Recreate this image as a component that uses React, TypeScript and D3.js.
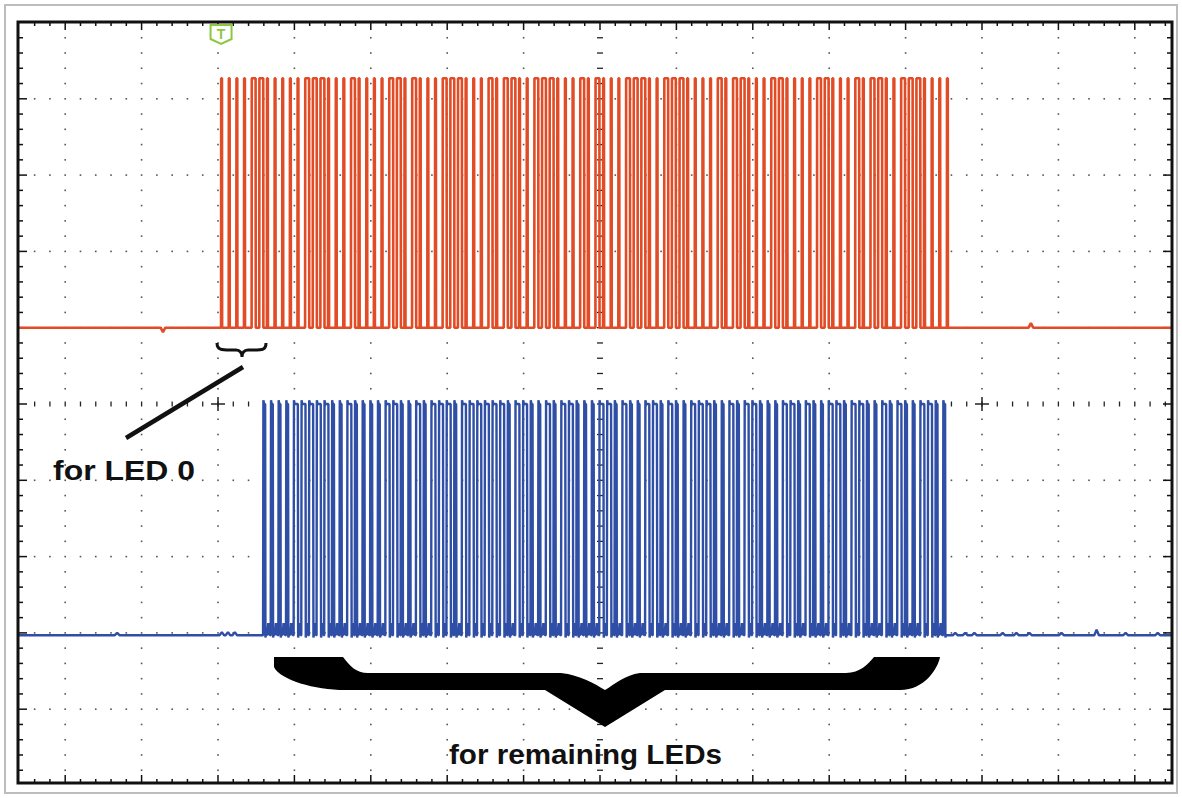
import React from 'react';
import * as d3 from 'd3';

const W = 1182;
const H = 798;

// Time axis in µs (10 µs/div), voltage in V (1 V/div)
const timeTicks = d3.range(-70, 71, 10);
const voltTicks = d3.range(-4, 5, 1);
const crossTimes = [-50, 50];

const bitPeriod = 1.0;

// CH1 (red): input of LED 0
const redStart = -49.6;
const redOffset = 1.0;
const redHigh = 3.27;
const redPulseWidth = [0.1, 0.5];
const redBits = [
  0, 0, 0, 0, 1, 1, 0, 0, 0, 0,
  0, 1, 1, 1, 0, 0, 0, 1, 0, 0,
  0, 0, 1, 1, 0, 1, 0, 0, 0, 1,
  1, 1,
  0, 0, 0, 1, 0, 1, 1, 0,
  0, 1, 1, 1, 0, 0, 0, 1, 0, 1,
  0, 0, 0, 1, 1, 1, 0, 0, 1, 1,
  1, 0, 0, 0,
  0, 1, 0, 1, 1, 0,
  0, 0, 1, 1, 0, 0, 0, 0, 1, 1,
  0, 0, 0, 1, 0, 1, 1, 0, 0, 1,
  1, 1, 0, 0, 0, 0,
];
const redGlitches: [number, number][] = [
  [-57.2, -0.06],
  [56.4, 0.06],
];

// CH2 (blue): output of LED 0
const blueStart = -44.1;
const blueOffset = -3.03;
const blueHigh = 3.03;
const bluePulseWidth = [0.22, 0.5];
const blueBump = 0.16;
const blueBits = [
  0, 0, 0, 0, 1, 1, 1, 1, 1, 0,
  0, 1, 0, 0, 0, 0, 1, 1, 0, 0,
  1, 0, 1, 1, 1, 0, 1, 1, 1, 1,
  1, 1,
  0, 1, 1, 0, 0, 1, 0, 1, 1, 0,
  0, 0, 1, 1, 0, 1, 0, 0, 1, 1,
  0, 1, 0, 0, 1, 1, 1, 0, 0, 1,
  0, 1, 1, 0, 0, 0, 1, 1, 0, 1,
  0, 0, 1, 1, 0, 1, 1, 0, 0, 1,
  0, 1, 0, 0, 1, 1, 0, 0,
];
const blueGlitches: [number, number][] = [
  [-63.2, 0.03],
  [-49.5, 0.04],
  [-48.7, 0.04],
  [-47.8, 0.04],
  [46.5, 0.03],
  [47.8, 0.03],
  [49.0, 0.03],
  [52.7, 0.03],
  [54.5, 0.03],
  [56.2, 0.03],
  [60.4, 0.03],
  [65.0, 0.07],
  [68.8, 0.03],
  [73.0, 0.03],
];

const labelLed0 = 'for LED 0';
const labelRest = 'for remaining LEDs';

const xScale = d3.scaleLinear().domain([-70, 70]).range([65.2, 1134.8]);
const yScale = d3.scaleLinear().domain([-4, 4]).range([709.2, 98.8]);

const frame = { left: 18, right: 1172, top: 22, bottom: 783 };

type Pt = [number, number];

function buildRed(): Pt[] {
  const tMin = xScale.invert(frame.left + 1);
  const tMax = xScale.invert(frame.right - 1);
  const pts: Pt[] = [];
  redBits.forEach((b, k) => {
    const tr = redStart + k * bitPeriod;
    const w = redPulseWidth[b];
    pts.push([tr, 0], [tr + 0.02, redHigh], [tr + 0.02 + w, redHigh], [tr + 0.04 + w, 0]);
  });
  redGlitches.forEach(([t, dv]) => {
    pts.push([t - 0.3, 0], [t, dv], [t + 0.3, 0]);
  });
  pts.sort((a, b) => a[0] - b[0]);
  return [[tMin, 0], ...pts, [tMax, 0]];
}

function buildBlue(): Pt[] {
  const tMin = xScale.invert(frame.left + 1);
  const tMax = xScale.invert(frame.right - 1);
  const pts: Pt[] = [];
  blueBits.forEach((b, k) => {
    const tr = blueStart + k * bitPeriod;
    const w = bluePulseWidth[b];
    const tf = tr + 0.05 + w;
    pts.push(
      [tr, 0],
      [tr + 0.04, blueHigh + 0.05],
      [tr + 0.12, blueHigh],
      [tf, blueHigh],
      [tf + 0.04, -0.03],
      [tf + 0.09, 0]
    );
    if (k < blueBits.length - 1) {
      const next = blueStart + (k + 1) * bitPeriod;
      const mid = (tf + 0.09 + next) / 2;
      pts.push([mid - 0.12, 0.01], [mid, blueBump], [mid + 0.12, 0.01], [next - 0.02, 0]);
    }
  });
  blueGlitches.forEach(([t, dv]) => {
    pts.push([t - 0.3, 0], [t, dv], [t + 0.3, 0]);
  });
  pts.sort((a, b) => a[0] - b[0]);
  return [[tMin, 0], ...pts, [tMax, 0]];
}

export default function App() {
  const redLine = d3
    .line<Pt>()
    .x((d) => xScale(d[0]))
    .y((d) => yScale(redOffset + d[1]));
  const blueLine = d3
    .line<Pt>()
    .x((d) => xScale(d[0]))
    .y((d) => yScale(blueOffset + d[1]));

  const dotTimes = d3.range(-74, 75, 2);
  const dotVolts = d3.range(-4.8, 4.81, 0.2).map((v) => Math.round(v * 10) / 10);

  const y0 = yScale(0);
  const x0 = xScale(0);

  const dots: JSX.Element[] = [];
  timeTicks.forEach((t) => {
    if (t === 0) return;
    dotVolts.forEach((v, i) => {
      if (v === 0) return;
      dots.push(
        <rect key={`v${t}_${i}`} x={xScale(t) - 0.8} y={yScale(v) - 0.8} width={1.6} height={1.6} fill="#555" />
      );
    });
  });
  voltTicks.forEach((v) => {
    if (v === 0) return;
    dotTimes.forEach((t, i) => {
      if (t % 10 === 0) return;
      dots.push(
        <rect key={`h${v}_${i}`} x={xScale(t) - 0.8} y={yScale(v) - 0.8} width={1.6} height={1.6} fill="#555" />
      );
    });
  });

  const ticks: JSX.Element[] = [];
  dotTimes.forEach((t, i) => {
    if (t === 0) return;
    ticks.push(
      <line key={`ch${i}`} x1={xScale(t)} x2={xScale(t)} y1={y0 - 2.5} y2={y0 + 2.5} stroke="#222" strokeWidth={1.3} />
    );
  });
  dotVolts.forEach((v, i) => {
    ticks.push(
      <line key={`cv${i}`} x1={x0 - 3} x2={x0 + 3} y1={yScale(v)} y2={yScale(v)} stroke="#222" strokeWidth={1.3} />
    );
  });
  dotTimes.forEach((t, i) => {
    const len = t % 10 === 0 ? 8 : 4;
    const x = xScale(t);
    ticks.push(
      <line key={`bt${i}`} x1={x} x2={x} y1={frame.top} y2={frame.top + len} stroke="#111" strokeWidth={1.5} />,
      <line key={`bb${i}`} x1={x} x2={x} y1={frame.bottom} y2={frame.bottom - len} stroke="#111" strokeWidth={1.5} />
    );
  });
  dotVolts.forEach((v, i) => {
    const len = Math.abs(v - Math.round(v)) < 1e-6 ? 9 : 5;
    const y = yScale(v);
    ticks.push(
      <line key={`bl${i}`} x1={frame.left} x2={frame.left + len} y1={y} y2={y} stroke="#111" strokeWidth={1.5} />,
      <line key={`br${i}`} x1={frame.right} x2={frame.right - len} y1={y} y2={y} stroke="#111" strokeWidth={1.5} />
    );
  });
  crossTimes.forEach((t) => {
    const x = xScale(t);
    ticks.push(
      <g key={`cross${t}`} stroke="#222" strokeWidth={1.5}>
        <line x1={x - 7} x2={x + 7} y1={y0} y2={y0} />
        <line x1={x} x2={x} y1={y0 - 7} y2={y0 + 7} />
      </g>
    );
  });

  const trigX = xScale(redStart);

  return (
    <svg
      width={W}
      height={H}
      style={{ position: 'absolute', left: 0, top: 0, background: '#fff' }}
      fontFamily="'Liberation Sans', Arial, sans-serif"
    >
      <rect x={0} y={0} width={W} height={H} fill="#fff" />
      <rect x={5} y={5} width={1172} height={788} fill="none" stroke="#bdbdbd" strokeWidth={2} />
      {dots}
      {ticks}
      <path d={redLine(buildRed()) || ''} fill="none" stroke="#e14b25" strokeWidth={2.6} strokeLinejoin="bevel" />
      <path d={blueLine(buildBlue()) || ''} fill="none" stroke="#2f4ea5" strokeWidth={2.4} strokeLinejoin="bevel" />
      <rect
        x={frame.left}
        y={frame.top}
        width={frame.right - frame.left}
        height={frame.bottom - frame.top}
        fill="none"
        stroke="#111"
        strokeWidth={3}
      />
      <path
        d={`M${trigX - 10.5},25 L${trigX + 10.5},25 L${trigX + 10.5},39 L${trigX},44 L${trigX - 10.5},39 Z`}
        fill="#fff"
        stroke="#8dc63f"
        strokeWidth={2}
      />
      <text x={trigX} y={39} textAnchor="middle" fontSize={14} fontWeight="bold" fill="#8dc63f">
        T
      </text>
      <path
        d="M217,343 C217,350 222,350 230,350 L236,350 C240,350 242,353 242,357 C242,353 244,350 248,350 L254,350 C262,350 266,350 266,343"
        fill="none"
        stroke="#111"
        strokeWidth={3}
      />
      <line x1={243} y1={367} x2={126} y2={438} stroke="#111" strokeWidth={4.5} />
      <text x={53} y={480} fontSize={28} fontWeight="bold" fill="#111" textLength={142} lengthAdjust="spacingAndGlyphs">
        {labelLed0}
      </text>
      <path
        d="M274,657 L343,657 C350,666 356,673 368,673 L561,673 C580,675 595,684 605,690 C615,684 625,675 640,673 L846,673 C860,673 868,664 874,657 L940,657 C938,668 925,690 900,690 L665,690 L605,727 L545,690 L345,690 C315,690 280,680 274,667 Z"
        fill="#000"
      />
      <text x={449} y={764} fontSize={27} fontWeight="bold" fill="#111" textLength={273} lengthAdjust="spacingAndGlyphs">
        {labelRest}
      </text>
    </svg>
  );
}
